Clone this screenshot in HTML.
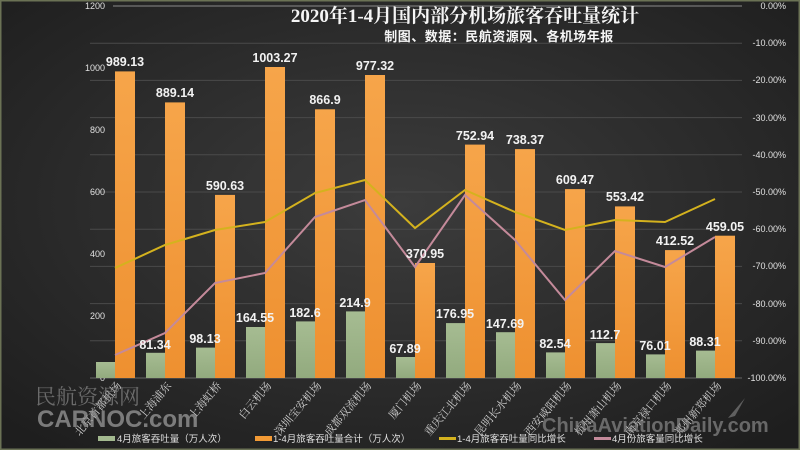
<!DOCTYPE html>
<html><head><meta charset="utf-8"><style>
html,body{margin:0;padding:0;width:800px;height:450px;overflow:hidden;background:#2b2b2b}
svg{display:block}
</style></head><body>
<svg width="800" height="450" viewBox="0 0 800 450" xmlns="http://www.w3.org/2000/svg">
<defs>
<radialGradient id="bg" cx="0.5" cy="0.45" r="0.7">
<stop offset="0" stop-color="#3c3c3c"/><stop offset="1" stop-color="#1e1e1e"/>
</radialGradient>
<linearGradient id="og" x1="0" y1="0" x2="0" y2="1"><stop offset="0" stop-color="#f6a54a"/><stop offset="1" stop-color="#ee9030"/></linearGradient>
<linearGradient id="gg" x1="0" y1="0" x2="0" y2="1"><stop offset="0" stop-color="#a6bc92"/><stop offset="1" stop-color="#92aa7e"/></linearGradient>
</defs>
<rect width="800" height="450" fill="url(#bg)"/>
<rect x="0.5" y="0.5" width="799" height="449" fill="none" stroke="#6b7255" stroke-width="2"/>
<g stroke="#4a4a4a" stroke-width="1">
<line x1="113" y1="6" x2="742" y2="6" stroke="#8a8a8a"/>
<line x1="90" y1="43.2" x2="742" y2="43.2"/><line x1="90" y1="80.4" x2="742" y2="80.4"/>
<line x1="90" y1="117.6" x2="742" y2="117.6"/><line x1="90" y1="154.8" x2="742" y2="154.8"/>
<line x1="90" y1="192" x2="742" y2="192"/><line x1="90" y1="229.2" x2="742" y2="229.2"/>
<line x1="90" y1="266.4" x2="742" y2="266.4"/><line x1="90" y1="303.6" x2="742" y2="303.6"/>
<line x1="90" y1="340.8" x2="742" y2="340.8"/><line x1="90" y1="378" x2="742" y2="378" stroke="#666"/>
</g>
<g font-family="Liberation Sans, sans-serif" font-size="9" fill="#e0e0e0" text-anchor="end">
<text x="105" y="9">1200</text><text x="105" y="71">1000</text><text x="105" y="133">800</text>
<text x="105" y="195">600</text><text x="105" y="257">400</text><text x="105" y="319">200</text><text x="105" y="381">0</text>
</g>
<g font-family="Liberation Sans, sans-serif" font-size="9" fill="#e0e0e0" text-anchor="end">
<text x="786" y="9">0.00%</text><text x="786" y="46">-10.00%</text><text x="786" y="83">-20.00%</text>
<text x="786" y="121">-30.00%</text><text x="786" y="158">-40.00%</text><text x="786" y="195">-50.00%</text>
<text x="786" y="232">-60.00%</text><text x="786" y="269">-70.00%</text><text x="786" y="307">-80.00%</text>
<text x="786" y="344">-90.00%</text><text x="786" y="381">-100.00%</text>
</g>
<g fill="url(#og)">
<rect x="115" y="71.4" width="20" height="306.6"/>
<rect x="165" y="102.4" width="20" height="275.6"/>
<rect x="215" y="194.9" width="20" height="183.1"/>
<rect x="265" y="67" width="20" height="311"/>
<rect x="315" y="109.3" width="20" height="268.7"/>
<rect x="365" y="75" width="20" height="303"/>
<rect x="415" y="263" width="20" height="115"/>
<rect x="465" y="144.6" width="20" height="233.4"/>
<rect x="515" y="149.1" width="20" height="228.9"/>
<rect x="565" y="189.1" width="20" height="188.9"/>
<rect x="615" y="206.4" width="20" height="171.6"/>
<rect x="665" y="250.1" width="20" height="127.9"/>
<rect x="715" y="235.7" width="20" height="142.3"/>
</g>
<g fill="url(#gg)">
<rect x="96" y="362" width="19" height="16"/>
<rect x="146" y="352.8" width="19" height="25.2"/>
<rect x="196" y="347.6" width="19" height="30.4"/>
<rect x="246" y="327" width="19" height="51"/>
<rect x="296" y="321.4" width="19" height="56.6"/>
<rect x="346" y="311.4" width="19" height="66.6"/>
<rect x="396" y="357" width="19" height="21"/>
<rect x="446" y="323.1" width="19" height="54.9"/>
<rect x="496" y="332.2" width="19" height="45.8"/>
<rect x="546" y="352.4" width="19" height="25.6"/>
<rect x="596" y="343.1" width="19" height="34.9"/>
<rect x="646" y="354.4" width="19" height="23.6"/>
<rect x="696" y="350.6" width="19" height="27.4"/>
</g>
<polyline fill="none" stroke="#d4b21e" stroke-width="2" points="115,268 165,245 215,230 265,222 315,193 365,180 415,228 465,190 515,212 565,230 615,220 665,222 715,199"/>
<polyline fill="none" stroke="#c48a9a" stroke-width="2" points="115,355 165,333 215,283 265,273 315,217 365,200 415,267 465,195 515,240 565,300 615,251 665,267 715,237"/>
<g font-family="Liberation Sans, sans-serif" font-size="12.5" font-weight="bold" fill="#f2f2f2" text-anchor="middle">
<text x="125" y="66">989.13</text><text x="175" y="97">889.14</text><text x="225" y="190">590.63</text>
<text x="275" y="62">1003.27</text><text x="325" y="104">866.9</text><text x="375" y="70">977.32</text>
<text x="425" y="258">370.95</text><text x="475" y="140">752.94</text><text x="525" y="144">738.37</text>
<text x="575" y="184">609.47</text><text x="625" y="201">553.42</text><text x="675" y="245">412.52</text>
<text x="725" y="231">459.05</text>
<text x="155" y="349">81.34</text><text x="205" y="343">98.13</text><text x="255" y="322">164.55</text>
<text x="305" y="317">182.6</text><text x="355" y="307">214.9</text><text x="405" y="353">67.89</text>
<text x="455" y="318">176.95</text><text x="505" y="328">147.69</text><text x="555" y="348">82.54</text>
<text x="605" y="339">112.7</text><text x="655" y="350">76.01</text><text x="705" y="346">88.31</text>
</g>
<g font-family="Liberation Serif, 'Noto Serif CJK SC', serif" font-size="11" fill="#cfcfcf" text-anchor="end">
<text transform="translate(122,386) rotate(-50)">北京首都机场</text>
<text transform="translate(172,386) rotate(-50)">上海浦东</text>
<text transform="translate(222,386) rotate(-50)">上海虹桥</text>
<text transform="translate(272,386) rotate(-50)">白云机场</text>
<text transform="translate(322,386) rotate(-50)">深圳宝安机场</text>
<text transform="translate(372,386) rotate(-50)">成都双流机场</text>
<text transform="translate(422,386) rotate(-50)">厦门机场</text>
<text transform="translate(472,386) rotate(-50)">重庆江北机场</text>
<text transform="translate(522,386) rotate(-50)">昆明长水机场</text>
<text transform="translate(572,386) rotate(-50)">西安咸阳机场</text>
<text transform="translate(622,386) rotate(-50)">杭州萧山机场</text>
<text transform="translate(672,386) rotate(-50)">南京禄口机场</text>
<text transform="translate(722,386) rotate(-50)">郑州新郑机场</text>
</g>
<text x="35" y="404" font-family="Liberation Serif, 'Noto Serif CJK SC', serif" font-size="21" fill="#8a8a8a" fill-opacity="0.7">民航资源网</text>
<text x="37" y="427" font-family="Liberation Sans, sans-serif" font-size="24" font-weight="bold" fill="#9a9a9a" fill-opacity="0.75">CARNOC.com</text>
<text x="542" y="432" font-family="Liberation Sans, sans-serif" font-size="20" font-weight="bold" fill="#9a9a9a" fill-opacity="0.6">ChinaAviationDaily.com</text>
<path d="M728,418 L745,398 L735,416 Z" fill="#8a8a8a" fill-opacity="0.6"/>
<text x="465" y="22" font-family="Liberation Serif, 'Noto Serif CJK SC', serif" font-size="19" font-weight="bold" fill="#f5f5f5" text-anchor="middle">2020年1-4月国内部分机场旅客吞吐量统计</text>
<text x="499" y="41" font-family="Liberation Sans, 'Noto Sans CJK SC', sans-serif" font-size="13" font-weight="bold" fill="#f5f5f5" text-anchor="middle" letter-spacing="0.5">制图、数据：民航资源网、各机场年报</text>
<g font-family="Liberation Sans, 'Noto Sans CJK SC', sans-serif" font-size="9.5" fill="#e0e0e0">
<rect x="98" y="436" width="17" height="5" fill="#a3b98f"/><text x="117" y="442">4月旅客吞吐量（万人次）</text>
<rect x="255" y="436" width="17" height="5" fill="#f29a35"/><text x="273" y="442">1-4月旅客吞吐量合计（万人次）</text>
<rect x="439" y="437" width="17" height="3" fill="#d4b21e"/><text x="457" y="442">1-4月旅客吞吐量同比增长</text>
<rect x="594" y="437" width="17" height="3" fill="#c48a9a"/><text x="612" y="442">4月份旅客量同比增长</text>
</g>
</svg>
</body></html>
